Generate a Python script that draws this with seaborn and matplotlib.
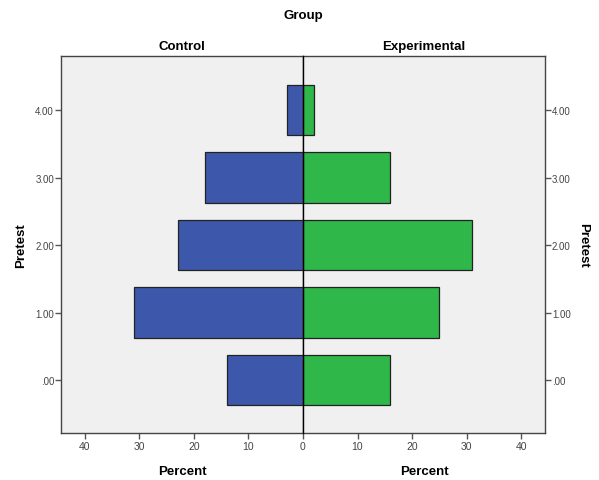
import pandas as pd
import matplotlib
matplotlib.use("Agg")
import matplotlib.pyplot as plt
import seaborn as sns

# Population-pyramid style chart: Pretest score by Group (percent)
pretest = [0, 1, 2, 3, 4]
pretest_labels = [".00", "1.00", "2.00", "3.00", "4.00"]
control = [14, 31, 23, 18, 3]
experimental = [16, 25, 31, 16, 2]
groups = ["Control", "Experimental"]

df_control = pd.DataFrame({"Pretest": pretest, "Percent": control})
df_exp = pd.DataFrame({"Pretest": pretest, "Percent": experimental})

sns.set_style("white")
plt.rcParams["font.family"] = ["Liberation Sans", "DejaVu Sans"]
plt.rcParams["text.color"] = "black"
plt.rcParams["axes.labelcolor"] = "black"

blue = "#3D58AB"
green = "#2FB74A"
panel_bg = "#F0F0F0"
frame = "#444444"
tick_col = "#555555"

fig = plt.figure(figsize=(5.99, 4.81), dpi=100)
ax1 = fig.add_axes([61 / 599, 1 - 434 / 481, 242 / 599, 377 / 481])
ax2 = fig.add_axes([303 / 599, 1 - 434 / 481, 242 / 599, 377 / 481], sharey=ax1)

sns.barplot(data=df_control, x="Percent", y="Pretest", orient="h", native_scale=True,
            color=blue, edgecolor="#222222", linewidth=0.9, saturation=1, width=0.75, ax=ax1)
sns.barplot(data=df_exp, x="Percent", y="Pretest", orient="h", native_scale=True,
            color=green, edgecolor="#222222", linewidth=0.9, saturation=1, width=0.75, ax=ax2)

xmax = 44.4
ax1.set_xlim(xmax, 0)
ax2.set_xlim(0, xmax)
ax1.set_ylim(-0.785, 4.8)

for ax in (ax1, ax2):
    ax.set_facecolor(panel_bg)
    for s in ax.spines.values():
        s.set_color(frame)
        s.set_linewidth(1.0)
    ax.tick_params(axis="x", bottom=True, direction="out", length=4, width=1, color=tick_col,
                   labelcolor="#444444", labelsize=7.5, pad=2)
    ax.tick_params(axis="y", direction="out", length=4, width=1, color=tick_col,
                   labelcolor="#444444", labelsize=7, pad=1)

ax1.tick_params(axis="y", left=True)
ax2.spines["left"].set_visible(False)
# black centre line between the two panels
ax2.axvline(0, color="black", linewidth=1.0, zorder=5, clip_on=False)

ax1.set_xticks([40, 30, 20, 10, 0])
ax1.set_xticklabels(["40", "30", "20", "10", "0"])
ax2.set_xticks([10, 20, 30, 40])
ax2.set_xticklabels(["10", "20", "30", "40"])

ax1.set_yticks(pretest)
ax1.set_yticklabels(pretest_labels)
ax2.yaxis.tick_right()
ax2.tick_params(axis="y", which="both", left=False, right=True, labelleft=False, labelright=True)
ax2.set_yticks(pretest)
ax2.set_yticklabels(pretest_labels)

ax1.set_xlabel("Percent", fontsize=9.5, fontweight="bold", labelpad=10)
ax2.set_xlabel("Percent", fontsize=9.5, fontweight="bold", labelpad=10)
ax1.set_ylabel("Pretest", fontsize=9.5, fontweight="bold", labelpad=6)
ax2.yaxis.set_label_position("right")
ax2.set_ylabel("Pretest", fontsize=9.5, fontweight="bold", rotation=270, labelpad=13)

ax1.set_title(groups[0], fontsize=9.5, fontweight="bold", pad=5)
ax2.set_title(groups[1], fontsize=9.5, fontweight="bold", pad=5)
fig.text(303 / 599, 1 - 16 / 481, "Group", ha="center", va="center",
         fontsize=9.5, fontweight="bold")

fig.savefig("out.png", dpi=100, facecolor="white")
